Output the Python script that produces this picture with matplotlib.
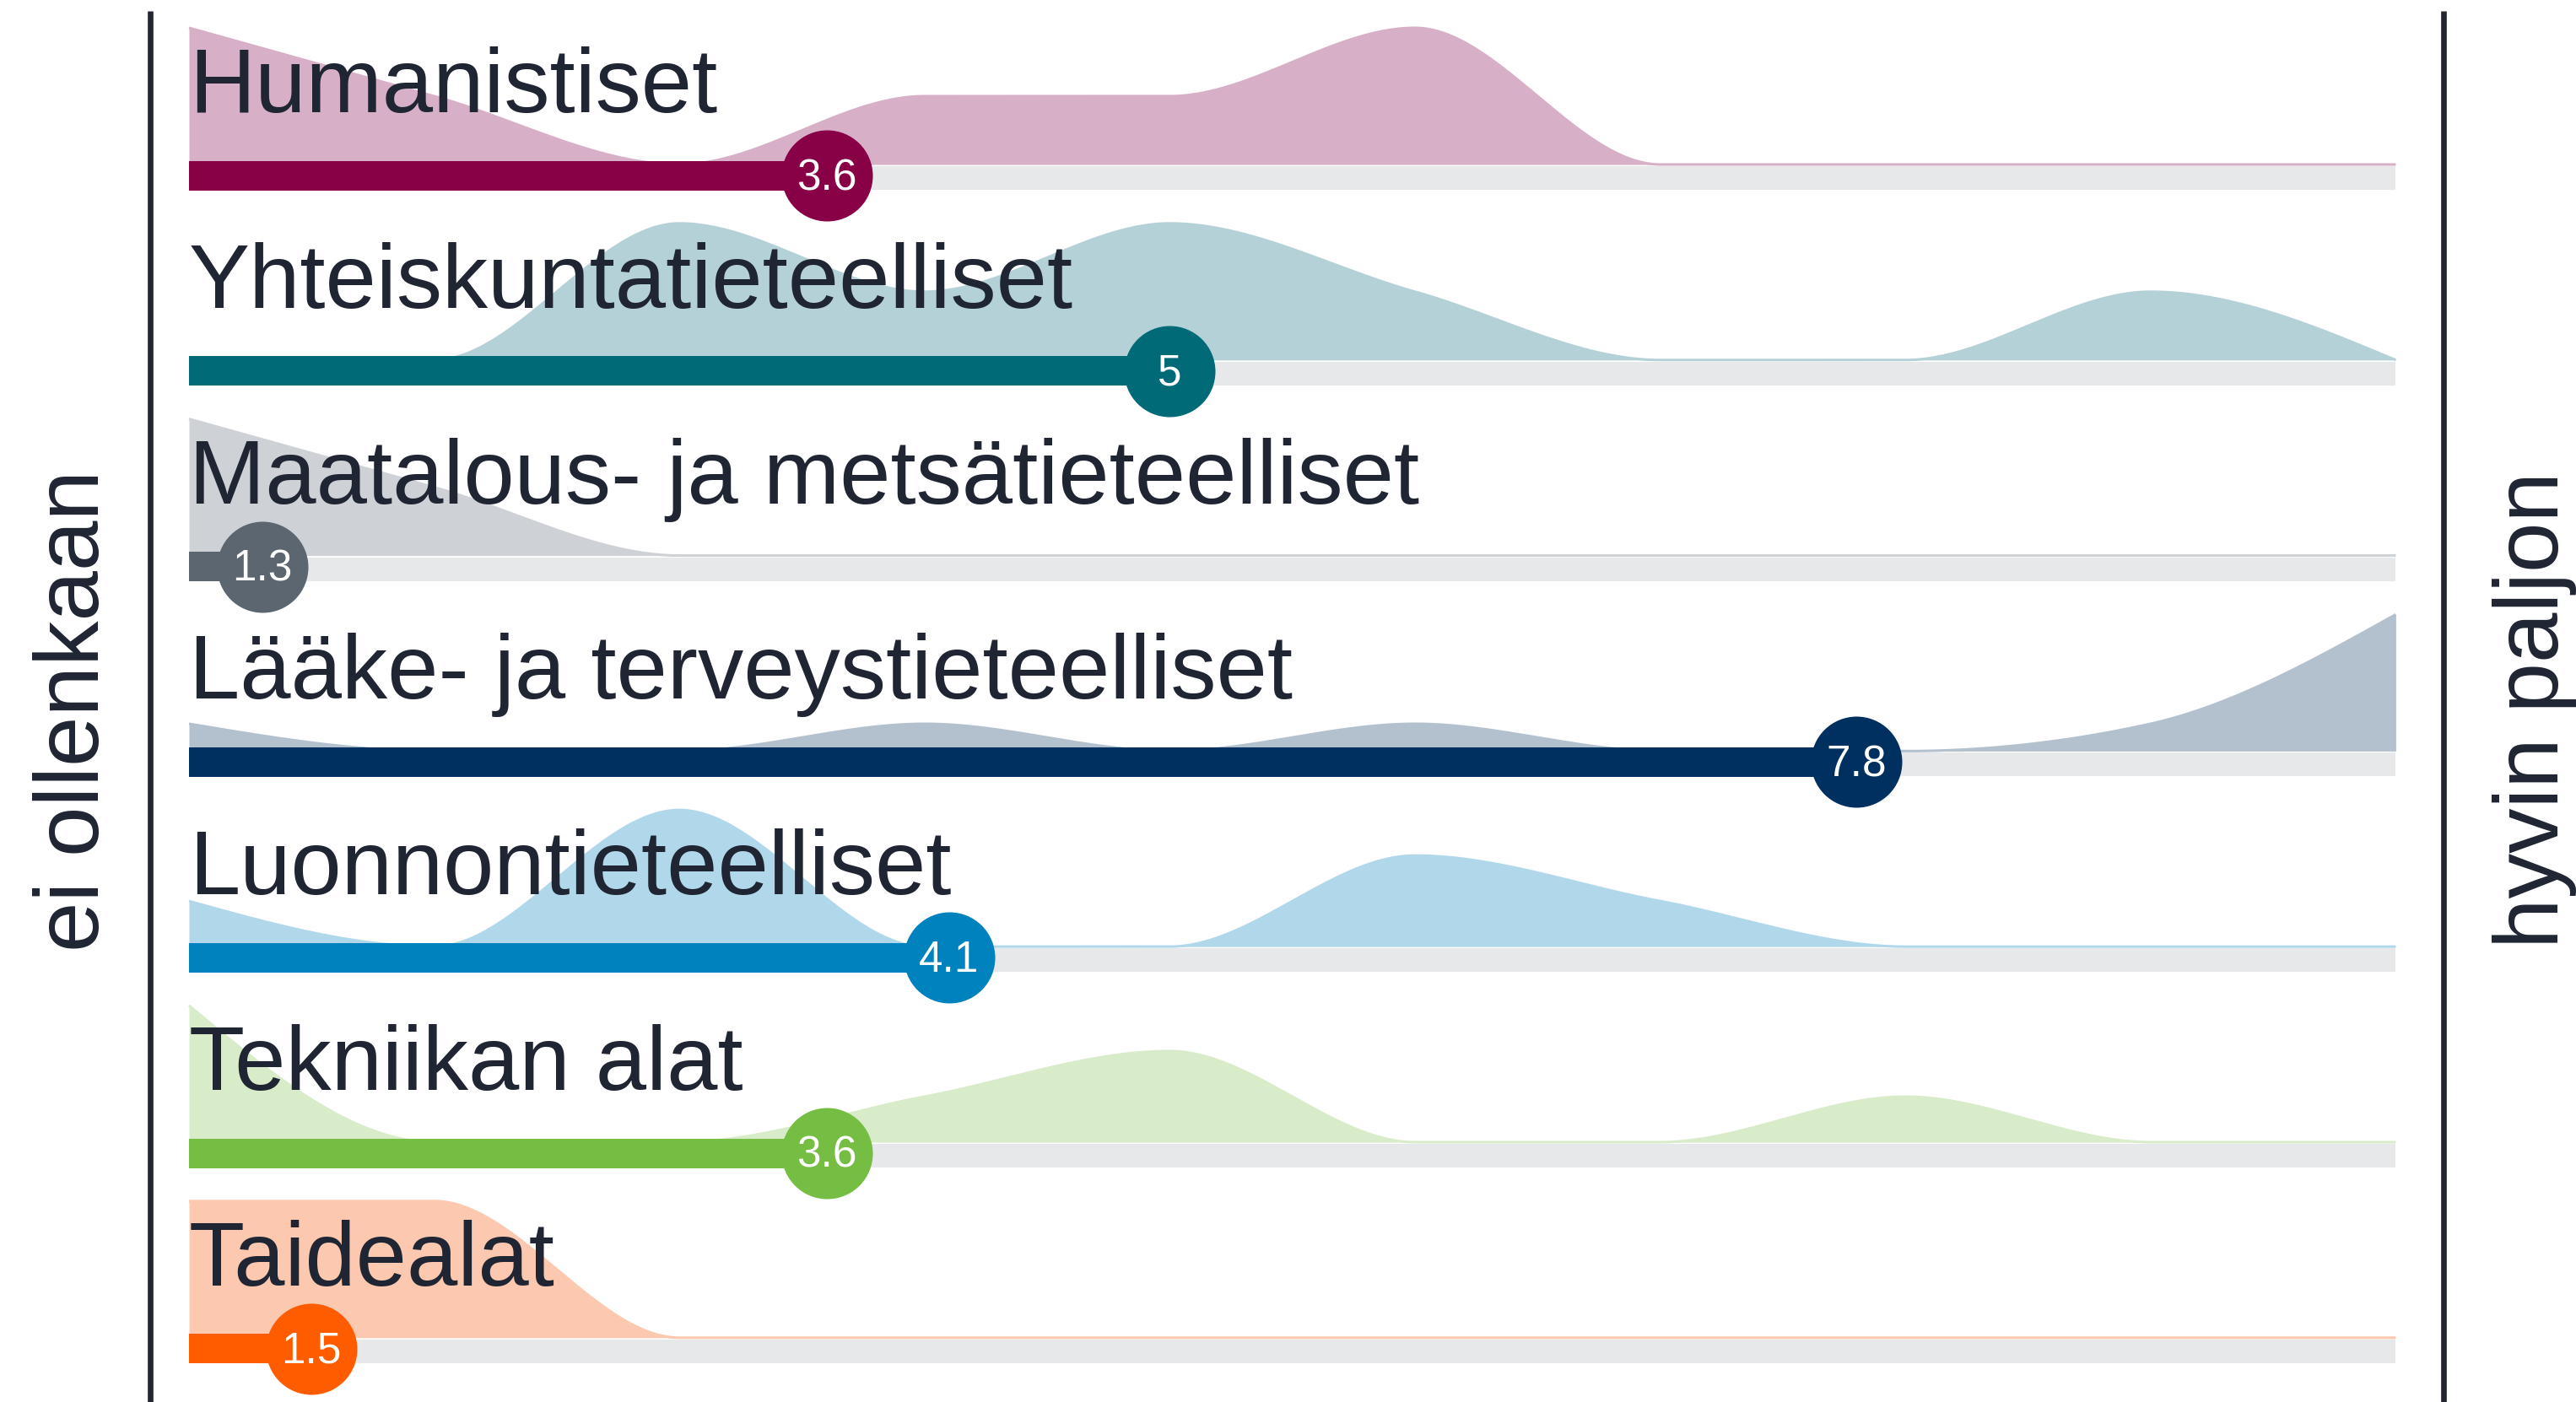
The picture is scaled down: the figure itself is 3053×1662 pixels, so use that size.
import numpy as np
import matplotlib
matplotlib.use("Agg")
import matplotlib.pyplot as plt

plt.rcParams['font.family'] = ['Liberation Sans', 'DejaVu Sans']

# answer scale 1..10 and answer counts per field
scale = [1, 2, 3, 4, 5, 6, 7, 8, 9, 10]
fields = ["Humanistiset",
          "Yhteiskuntatieteelliset",
          "Maatalous- ja metsätieteelliset",
          "Lääke- ja terveystieteelliset",
          "Luonnontieteelliset",
          "Tekniikan alat",
          "Taidealat"]
counts_hum = [2, 1, 0, 1, 1, 2, 0, 0, 0, 0]
counts_yht = [0, 0, 2, 1, 2, 1, 0, 0, 1, 0]
counts_maa = [2, 1, 0, 0, 0, 0, 0, 0, 0, 0]
counts_laa = [1, 0, 0, 1, 0, 1, 0, 0, 1, 5]
counts_luo = [1, 0, 3, 0, 0, 2, 1, 0, 0, 0]
counts_tek = [3, 0, 0, 1, 2, 0, 0, 1, 0, 0]
counts_tai = [1, 1, 0, 0, 0, 0, 0, 0, 0, 0]
means = [3.6, 5, 1.3, 7.8, 4.1, 3.6, 1.5]

bar_colors = ['#880046', '#006b77', '#5b6670', '#00305f', '#0082bf', '#76bd43', '#ff5c00']
area_colors = ['#d7afc7', '#b5d1d8', '#ced1d5', '#b3c1cf', '#b1d7eb', '#d9ecca', '#fcc8af']
track_color = '#e7e8e9'
text_color = '#1f2532'

all_counts = [counts_hum, counts_yht, counts_maa, counts_laa, counts_luo, counts_tek, counts_tai]


def monotone_x(xs, ys, n=60):
    # same smoothing as d3.curveMonotoneX
    xs = np.asarray(xs, float)
    ys = np.asarray(ys, float)
    h = np.diff(xs)
    s = np.diff(ys) / h
    m = np.zeros(len(xs))
    for i in range(1, len(xs) - 1):
        p = (s[i - 1] * h[i] + s[i] * h[i - 1]) / (h[i - 1] + h[i])
        sg = (-1 if s[i - 1] < 0 else 1) + (-1 if s[i] < 0 else 1)
        m[i] = sg * min(abs(s[i - 1]), abs(s[i]), 0.5 * abs(p))
    m[0] = (3 * s[0] - m[1]) / 2
    m[-1] = (3 * s[-1] - m[-2]) / 2
    out_x, out_y = [], []
    for i in range(len(xs) - 1):
        t = np.linspace(0, 1, n, endpoint=(i == len(xs) - 2))
        h00 = 2 * t**3 - 3 * t**2 + 1
        h10 = t**3 - 2 * t**2 + t
        h01 = -2 * t**3 + 3 * t**2
        h11 = t**3 - t**2
        out_x.append(xs[i] + t * h[i])
        out_y.append(h00 * ys[i] + h10 * h[i] * m[i] + h01 * ys[i + 1] + h11 * h[i] * m[i + 1])
    return np.concatenate(out_x), np.concatenate(out_y)


W, H, DPI = 3053, 1662, 200
fig = plt.figure(figsize=(W / DPI, H / DPI), dpi=DPI)
ax = fig.add_axes([0, 0, 1, 1])
ax.set_axis_off()

# layout in pixels -> data units
x0_px, unit_px = 224, 290.6        # position of value 1, pixels per scale step
row0_px, row_px = 208, 231.8       # centre of first row, row spacing
ax.set_xlim(1 - x0_px / unit_px, 1 + (W - x0_px) / unit_px)
ax.set_ylim((H - row0_px) / row_px, -row0_px / row_px)
px = 1 / row_px

base_off = 13 * px
area_h = 162 * px

for i, (name, cnt, mean) in enumerate(zip(fields, all_counts, means)):
    c = i
    # density ridge
    norm = np.array(cnt, float) / max(cnt)
    cx, cy = monotone_x(scale, norm)
    base = c - base_off
    ax.fill_between(cx, base, base - np.clip(cy, 0, None) * area_h,
                    color=area_colors[i], lw=0, zorder=1)
    ax.plot(cx, base - np.clip(cy, 0, None) * area_h, color=area_colors[i],
            lw=1.1, zorder=1, solid_capstyle='butt')
    # track + value bar
    ax.barh(c + 3 * px, scale[-1] - scale[0], left=scale[0], height=28 * px,
            color=track_color, zorder=2)
    ax.barh(c, mean - scale[0], left=scale[0], height=35 * px,
            color=bar_colors[i], zorder=3)
    ax.scatter([mean], [c], s=1512, color=bar_colors[i], zorder=4, linewidths=0)
    ax.text(mean, c + 17 * px, f"{mean:g}", color='white', fontsize=18.5,
            ha='center', va='baseline', zorder=5)
    # field name
    ax.text(scale[0], c - 75 * px, name, color=text_color, fontsize=39,
            ha='left', va='baseline', zorder=6)

# end lines of the scale
top_y = -row0_px / row_px + 13 * px
bot_y = (H - row0_px) / row_px
for xp in (178, 2896):
    xv = 1 + (xp - x0_px) / unit_px
    ax.plot([xv, xv], [top_y, bot_y], color='#23272f', lw=2.4, zorder=6,
            solid_capstyle='butt')

mid_y = (842 - row0_px) / row_px
ax.text(1 + (117 - x0_px) / unit_px, mid_y, "ei ollenkaan", rotation=90,
        rotation_mode='anchor', ha='center', va='baseline', fontsize=38.5,
        color=text_color)
ax.text(1 + (3032 - x0_px) / unit_px, mid_y, "hyvin paljon", rotation=90,
        rotation_mode='anchor', ha='center', va='baseline', fontsize=38.5,
        color=text_color)

fig.savefig("out.png", dpi=DPI, facecolor='white')
